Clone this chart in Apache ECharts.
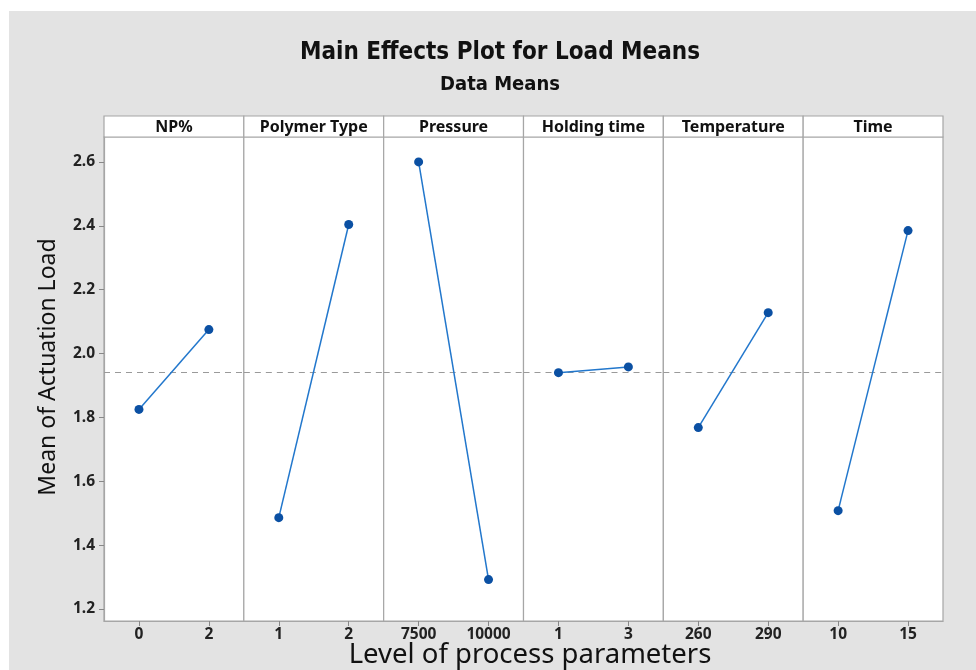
<!DOCTYPE html>
<html>
<head>
<meta charset="utf-8">
<script src="https://cdn.jsdelivr.net/npm/echarts@6/dist/echarts.min.js"></script>
<style>
html,body{margin:0;padding:0;background:#ffffff;width:976px;height:670px;overflow:hidden;}
#chart{position:absolute;left:9px;top:11px;width:967px;height:659px;}
</style>
</head>
<body>
<div id="chart"></div>
<script>
// ---- data ----
const factors = ['NP%', 'Polymer Type', 'Pressure', 'Holding time', 'Temperature', 'Time'];
const npLevels = ['0', '2'];
const polymerLevels = ['1', '2'];
const pressureLevels = ['7500', '10000'];
const holdingLevels = ['1', '3'];
const temperatureLevels = ['260', '290'];
const timeLevels = ['10', '15'];
const npMeans = [1.825, 2.075];
const polymerMeans = [1.486, 2.404];
const pressureMeans = [2.600, 1.292];
const holdingMeans = [1.940, 1.958];
const temperatureMeans = [1.768, 2.128];
const timeMeans = [1.508, 2.385];
const grandMean = 1.944;
const yTicks = [1.2, 1.4, 1.6, 1.8, 2.0, 2.2, 2.4, 2.6];
const yMin = 1.1624, yMax = 2.678;

const levels = [npLevels, polymerLevels, pressureLevels, holdingLevels, temperatureLevels, timeLevels];
const means = [npMeans, polymerMeans, pressureMeans, holdingMeans, temperatureMeans, timeMeans];

// ---- layout ----
const L = 95, PW = 839 / 6, HT = 105, HH = 21, PT = 126, PH = 484;
const FONT = '"Noto Sans", "Open Sans", sans-serif';
const TFONT = '"Liberation Sans Narrow", "DejaVu Sans Condensed", sans-serif';
const BORDER = '#a6a6a6';

const grids = [], xAxes = [], yAxes = [], series = [], titles = [];

titles.push({text: 'Main Effects Plot for Load Means', left: 491, top: 30, textAlign: 'center', padding: 0,
  textStyle: {fontFamily: TFONT, fontSize: 24, fontWeight: 'bold', color: '#111'}});
titles.push({text: 'Data Means', left: 491, top: 64, textAlign: 'center', padding: 0,
  textStyle: {fontFamily: TFONT, fontSize: 20, fontWeight: 'bold', color: '#111'}});
titles.push({text: 'Level of process parameters', left: 521, top: 630, textAlign: 'center', padding: 0,
  textStyle: {fontFamily: FONT, fontSize: 27.5, fontWeight: 'normal', color: '#111'}});

for (let i = 0; i < 6; i++) {
  const left = L + i * PW;
  grids.push({left: left, top: PT, width: PW, height: PH, show: true, backgroundColor: '#ffffff', borderColor: BORDER, borderWidth: 1.2});
  xAxes.push({gridIndex: 2 * i, type: 'category', data: levels[i], boundaryGap: true,
    axisLine: {show: true, lineStyle: {color: BORDER, width: 1.2}},
    axisTick: {show: true, alignWithLabel: true, length: 5, lineStyle: {color: '#888'}},
    axisLabel: {margin: 6, fontFamily: FONT, fontSize: 15.5, fontWeight: 'bold', color: '#222'},
    splitLine: {show: false}});
  yAxes.push({gridIndex: 2 * i, type: 'value', min: yMin, max: yMax,
    show: i === 0,
    name: i === 0 ? 'Mean of Actuation Load' : '', nameLocation: 'middle', nameGap: 44,
    nameTextStyle: {fontFamily: FONT, fontSize: 23, color: '#111', padding: [0, 0, 0, 24]},
    axisLine: {show: true, lineStyle: {color: BORDER, width: 1.2}},
    axisTick: {show: true, length: 5, customValues: yTicks, lineStyle: {color: '#888'}},
    axisLabel: {margin: 9, customValues: yTicks, formatter: v => v.toFixed(1), fontFamily: FONT, fontSize: 15.5, fontWeight: 'bold', color: '#222'},
    splitLine: {show: false}});
  series.push({type: 'line', xAxisIndex: i, yAxisIndex: i, data: means[i],
    symbol: 'circle', symbolSize: 9, z: 5,
    itemStyle: {color: '#0b50a3'},
    lineStyle: {color: '#2277cc', width: 1.5},
    emphasis: {disabled: true},
    markLine: {silent: true, symbol: 'none', label: {show: false},
      lineStyle: {color: '#9a9a9a', type: [6, 5], width: 1.2},
      data: [{yAxis: grandMean}]}});
  // header strip
  grids.push({left: left, top: HT, width: PW, height: HH, show: true, backgroundColor: '#ffffff', borderColor: BORDER, borderWidth: 1.2});
  titles.push({text: factors[i], left: left + PW / 2, top: HT + HH / 2 + 1, textAlign: 'center', textVerticalAlign: 'middle', padding: 0,
    textStyle: {fontFamily: FONT, fontSize: 16, fontWeight: 'bold', color: '#111'}});
}
// hidden axes for header grids
for (let i = 0; i < 6; i++) {
  xAxes.push({gridIndex: 2 * i + 1, type: 'value', show: false});
  yAxes.push({gridIndex: 2 * i + 1, type: 'value', show: false});
}

const chart = echarts.init(document.getElementById('chart'), null, {renderer: 'canvas'});
chart.setOption({
  backgroundColor: '#e3e3e3',
  animation: false,
  title: titles,
  grid: grids,
  xAxis: xAxes,
  yAxis: yAxes,
  series: series
});
</script>
</body>
</html>
